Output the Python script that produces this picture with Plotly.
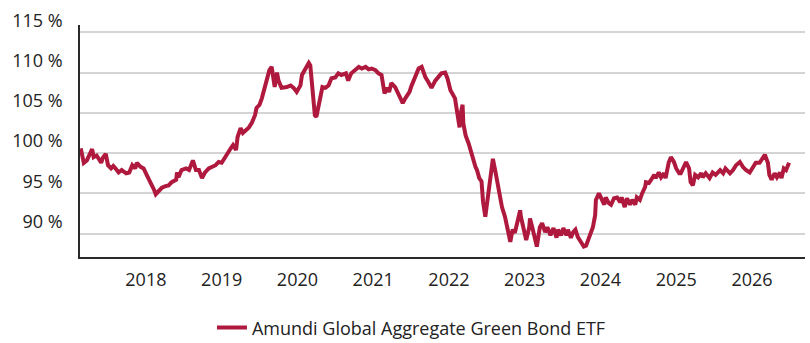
import plotly.graph_objects as go

# Fund performance, indexed (%), sampled as decimal years
years = [
    2017.14, 2017.17, 2017.18, 2017.22, 2017.26, 2017.29, 2017.31, 2017.35, 2017.41, 2017.43,
    2017.47, 2017.50, 2017.54, 2017.57, 2017.60, 2017.64, 2017.68, 2017.74, 2017.78, 2017.82,
    2017.86, 2017.88, 2017.93, 2017.97, 2018.01, 2018.07, 2018.11, 2018.13, 2018.17, 2018.21,
    2018.26, 2018.30, 2018.34, 2018.40, 2018.41, 2018.43, 2018.47, 2018.53, 2018.57, 2018.62,
    2018.66, 2018.70, 2018.74, 2018.78, 2018.83, 2018.87, 2018.92, 2018.96, 2019.00, 2019.04,
    2019.08, 2019.12, 2019.15, 2019.19, 2019.21, 2019.25, 2019.28, 2019.32, 2019.36, 2019.40,
    2019.44, 2019.46, 2019.50, 2019.53, 2019.57, 2019.59, 2019.63, 2019.66, 2019.70, 2019.73,
    2019.75, 2019.79, 2019.82, 2019.86, 2019.91, 2019.95, 2019.99, 2020.04, 2020.06, 2020.11,
    2020.15, 2020.17, 2020.20, 2020.23, 2020.25, 2020.27, 2020.31, 2020.33, 2020.37, 2020.41,
    2020.45, 2020.50, 2020.54, 2020.58, 2020.64, 2020.67, 2020.71, 2020.77, 2020.81, 2020.85,
    2020.90, 2020.94, 2020.98, 2021.03, 2021.07, 2021.11, 2021.15, 2021.18, 2021.21, 2021.24,
    2021.29, 2021.33, 2021.39, 2021.43, 2021.48, 2021.50, 2021.56, 2021.60, 2021.64, 2021.69,
    2021.73, 2021.77, 2021.82, 2021.86, 2021.90, 2021.95, 2021.98, 2022.02, 2022.04, 2022.08,
    2022.11, 2022.14, 2022.16, 2022.18, 2022.19, 2022.22, 2022.26, 2022.30, 2022.32, 2022.35,
    2022.37, 2022.40, 2022.43, 2022.45, 2022.48, 2022.51, 2022.55, 2022.56, 2022.58, 2022.61,
    2022.64, 2022.68, 2022.70, 2022.74, 2022.77, 2022.81, 2022.84, 2022.87, 2022.90, 2022.94,
    2022.95, 2022.99, 2023.02, 2023.06, 2023.07, 2023.10, 2023.14, 2023.16, 2023.20, 2023.23,
    2023.27, 2023.30, 2023.34, 2023.38, 2023.42, 2023.44, 2023.48, 2023.51, 2023.55, 2023.57,
    2023.61, 2023.64, 2023.67, 2023.70, 2023.74, 2023.78, 2023.81, 2023.85, 2023.88, 2023.90,
    2023.93, 2023.94, 2023.98, 2024.01, 2024.05, 2024.07, 2024.11, 2024.14, 2024.18, 2024.22,
    2024.26, 2024.28, 2024.32, 2024.35, 2024.39, 2024.42, 2024.46, 2024.48, 2024.52, 2024.55,
    2024.59, 2024.60, 2024.64, 2024.67, 2024.71, 2024.73, 2024.77, 2024.80, 2024.84, 2024.86,
    2024.90, 2024.93, 2024.97, 2025.00, 2025.04, 2025.06, 2025.10, 2025.13, 2025.17, 2025.19,
    2025.22, 2025.25, 2025.29, 2025.33, 2025.35, 2025.39, 2025.44, 2025.48, 2025.52, 2025.58,
    2025.62, 2025.65, 2025.71, 2025.75, 2025.79, 2025.84, 2025.88, 2025.92, 2025.97, 2026.01,
    2026.05, 2026.10, 2026.14, 2026.17, 2026.21, 2026.23, 2026.26, 2026.30, 2026.33, 2026.37,
    2026.39, 2026.42, 2026.45, 2026.49,
]

values = [
    100.6, 99.0, 98.8, 99.1, 100.1, 100.5, 99.5, 99.7, 98.8, 99.4,
    99.9, 98.5, 98.1, 98.4, 98.1, 97.6, 97.9, 97.5, 97.6, 98.5,
    98.1, 98.8, 98.3, 98.1, 97.3, 96.3, 95.4, 94.9, 95.4, 95.7,
    95.9, 96.0, 96.4, 96.7, 97.6, 97.0, 97.9, 98.1, 97.9, 99.1,
    97.9, 97.9, 96.9, 97.6, 98.1, 98.3, 98.5, 98.9, 98.8, 99.4,
    100.1, 100.6, 101.0, 100.4, 102.0, 103.1, 102.5, 102.9, 103.2, 103.8,
    104.7, 105.6, 106.0, 106.8, 108.1, 108.8, 110.3, 110.7, 108.2, 110.0,
    109.0, 108.1, 108.1, 108.2, 108.4, 108.1, 107.6, 108.4, 109.7, 110.5,
    111.2, 110.9, 108.1, 104.7, 104.5, 105.6, 107.2, 108.2, 108.1, 108.4,
    109.3, 109.4, 109.9, 109.7, 109.9, 109.0, 109.9, 110.3, 110.7, 110.5,
    110.7, 110.4, 110.5, 110.3, 109.9, 109.7, 107.4, 108.1, 107.6, 108.7,
    108.2, 107.4, 106.2, 106.9, 107.6, 108.2, 109.7, 110.5, 110.7, 109.4,
    108.8, 108.1, 109.0, 109.4, 109.9, 110.0, 109.3, 107.8, 107.4, 106.8,
    105.0, 103.2, 105.1, 106.0, 103.7, 102.2, 101.2, 99.8, 99.1, 98.3,
    97.9, 96.9, 96.5, 94.0, 92.1, 94.2, 96.3, 97.0, 99.3, 97.9,
    96.3, 94.2, 93.3, 92.1, 90.5, 89.0, 90.5, 90.1, 91.3, 92.9,
    92.1, 90.1, 89.2, 90.8, 91.9, 90.8, 89.2, 88.4, 90.8, 91.3,
    90.2, 90.8, 89.8, 90.7, 89.5, 90.5, 89.8, 90.7, 89.8, 90.5,
    89.5, 90.2, 90.5, 89.6, 89.0, 88.4, 88.5, 89.5, 90.2, 90.8,
    92.3, 94.2, 95.0, 94.5, 93.6, 94.5, 93.8, 93.6, 94.4, 94.5,
    93.9, 94.5, 93.3, 94.4, 93.6, 94.2, 93.6, 94.5, 94.2, 95.0,
    95.8, 96.4, 96.3, 96.7, 97.3, 96.9, 97.6, 97.0, 97.5, 96.9,
    98.8, 99.5, 98.9, 98.1, 97.5, 97.5, 98.5, 98.9, 98.1, 96.4,
    96.0, 97.3, 97.0, 97.5, 97.0, 97.5, 96.9, 97.6, 97.3, 97.9,
    97.5, 98.1, 97.5, 97.9, 98.5, 98.9, 98.3, 97.9, 97.6, 98.3,
    98.8, 98.8, 99.4, 99.8, 98.8, 97.3, 96.7, 97.5, 97.0, 97.6,
    96.9, 98.1, 97.9, 98.8,
]

year_ticks = [2018, 2019, 2020, 2021, 2022, 2023, 2024, 2025, 2026]
pct_ticks = [90, 95, 100, 105, 110, 115]
pct_labels = [f"{v} %" for v in pct_ticks]

series_name = "Amundi Global Aggregate Green Bond ETF"
line_color = "#B0193E"
font_family = "Open Sans"
text_color = "#222222"

fig = go.Figure()
fig.add_trace(go.Scatter(
    x=years,
    y=values,
    mode="lines",
    name=series_name,
    line=dict(color=line_color, width=4),
    showlegend=True,
))

fig.update_layout(
    width=810,
    height=343,
    margin=dict(l=80, r=5, t=25, b=86),
    paper_bgcolor="white",
    plot_bgcolor="white",
    font=dict(family=font_family, size=18, color=text_color),
    showlegend=True,
    legend=dict(
        orientation="h",
        xref="container", yref="container",
        x=0.508, y=0.044,
        xanchor="center", yanchor="middle",
        font=dict(family=font_family, size=18, color=text_color),
    ),
)

fig.update_xaxes(
    range=[2017.13, 2026.70],
    tickvals=year_ticks,
    ticktext=[str(y) for y in year_ticks],
    showgrid=False,
    zeroline=False,
    showline=True,
    linecolor="#2a2a2a",
    linewidth=1.5,
    ticks="outside",
    ticklen=6,
    tickcolor="rgba(0,0,0,0)",
)

fig.update_yaxes(
    range=[87.11, 115.9],
    tickvals=pct_ticks,
    ticktext=pct_labels,
    showgrid=True,
    gridcolor="#d4d4d4",
    gridwidth=1.5,
    zeroline=False,
    showline=True,
    linecolor="#2a2a2a",
    linewidth=1.5,
    ticklabelstandoff=12,
    ticklabelshift=-12,
)

fig.write_html("out.html")
